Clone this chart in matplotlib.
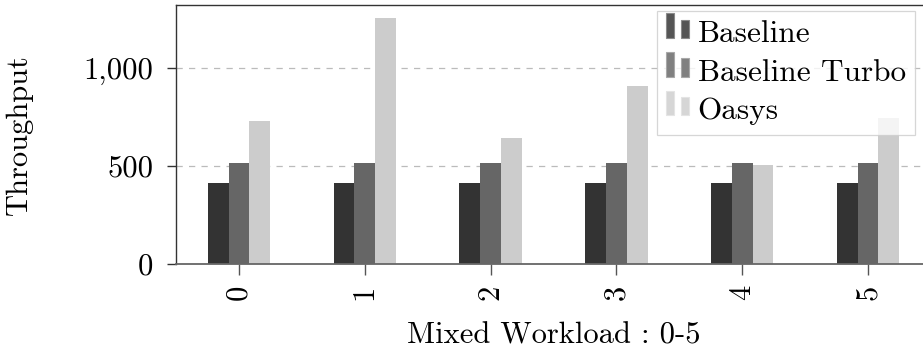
import matplotlib
matplotlib.use("Agg")
import matplotlib.pyplot as plt
from matplotlib.legend_handler import HandlerBase
from matplotlib.patches import Rectangle
import numpy as np

categories = ["0", "1", "2", "3", "4", "5"]
series_names = ["Baseline", "Baseline Turbo", "Oasys"]
baseline = [413, 413, 413, 413, 413, 413]
baseline_turbo = [515, 515, 515, 515, 515, 515]
oasys = [730, 1257, 643, 908, 505, 745]
y_ticks = [0, 500, 1000]
y_tick_labels = ["0", "500", "1,000"]

bar_colors = ["#333333", "#666666", "#cccccc"]
legend_colors = ["#555555", "#808080", "#d6d6d6"]
legend_edges = ["#8a8a8a", "#a8a8a8", "#e4e4e4"]

plt.rcParams["font.family"] = ["cmr10", "DejaVu Serif"]
plt.rcParams["axes.unicode_minus"] = False
plt.rcParams["font.size"] = 22


class TwinBarHandler(HandlerBase):
    """Legend key drawn as a tall and a short bar side by side."""

    def __init__(self, color, edge):
        super().__init__()
        self.color = color
        self.edge = edge

    def create_artists(self, legend, orig_handle, xdescent, ydescent,
                       width, height, fontsize, trans):
        bw = width * 0.35
        y0 = -ydescent + height * 0.2
        r1 = Rectangle((-xdescent, y0), bw, height * 1.12,
                       facecolor=self.color, edgecolor=self.edge,
                       linewidth=0.8, transform=trans)
        r2 = Rectangle((-xdescent + width - bw, y0), bw, height * 0.84,
                       facecolor=self.color, edgecolor=self.edge,
                       linewidth=0.8, transform=trans)
        return [r1, r2]


fig = plt.figure(figsize=(9.23, 3.5), dpi=100)
ax = fig.add_axes([176 / 923, 86 / 350, 755 / 923, 259 / 350])

x = np.arange(len(categories))
width = 0.165
values = [baseline, baseline_turbo, oasys]
handles = []
for i, (vals, col, name) in enumerate(zip(values, bar_colors, series_names)):
    b = ax.bar(x + (i - 1) * width, vals, width, color=col, label=name,
               zorder=2, linewidth=0)
    handles.append(b)

ax.set_xlim(-0.5, len(categories) - 0.5)
ax.set_ylim(0, 1321)
ax.set_yticks(y_ticks)
ax.set_yticklabels(y_tick_labels)
ax.set_xticks(x)
ax.set_xticklabels(categories, rotation=90)

ax.yaxis.grid(True, linestyle=(0, (5, 5)), color="#bbbbbb", linewidth=0.9,
              zorder=0)
ax.set_axisbelow(True)

for side in ["top", "left", "right"]:
    ax.spines[side].set_color("#333333")
    ax.spines[side].set_linewidth(1.0)
ax.spines["bottom"].set_color("#666666")
ax.spines["bottom"].set_linewidth(1.3)

ax.tick_params(axis="x", direction="out", length=8, width=1.0,
               color="#555555", pad=7)
ax.tick_params(axis="y", direction="out", length=6.5, width=1.0,
               color="#333333", pad=10)
ax.tick_params(top=False, right=False)

ax.set_ylabel("Throughput")
ax.yaxis.set_label_coords(-0.189, 0.5)
ax.set_xlabel("Mixed Workload : 0-5")
ax.xaxis.set_label_coords(0.5007, -0.225)

leg = ax.legend(
    handles, series_names,
    handler_map={h: TwinBarHandler(c, e)
                 for h, c, e in zip(handles, legend_colors, legend_edges)},
    loc="upper right",
    bbox_to_anchor=(915 / 923, 1 - 11 / 350),
    bbox_transform=fig.transFigure,
    frameon=True, fancybox=False, framealpha=0.8,
    edgecolor="#cccccc", handlelength=0.75, handletextpad=0.26,
    labelspacing=0.34, borderpad=0.3, borderaxespad=0.0,
    fontsize=22.5,
)
leg.get_frame().set_linewidth(0.9)

fig.savefig("out.png", dpi=100)
